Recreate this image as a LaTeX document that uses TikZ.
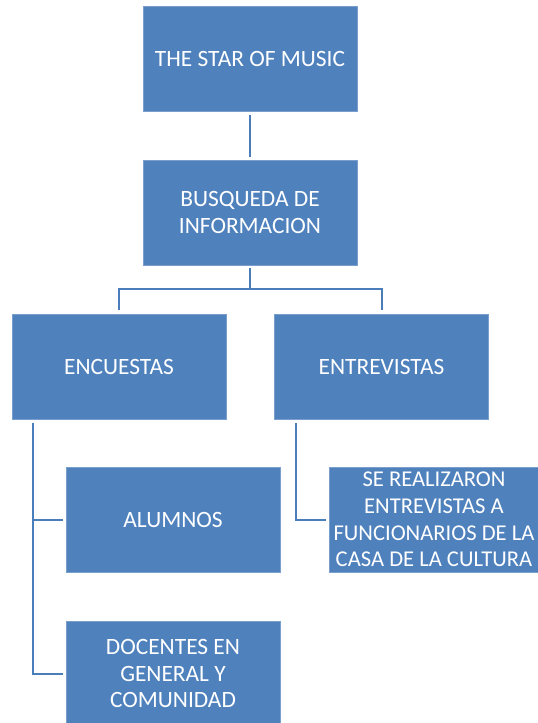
\documentclass[tikz,border=0pt]{standalone}
\usepackage{fontspec}
\setmainfont{Carlito}
\definecolor{boxblue}{HTML}{4F81BD}
\definecolor{boxedge}{HTML}{7A9FCC}
\definecolor{linkblue}{HTML}{4A7EBB}
\tikzset{
  stepbox/.style={rectangle,fill=boxblue,draw=boxedge,line width=0.6pt,
    minimum width=214pt,minimum height=105pt,inner sep=0pt,
    text=white,align=center,font=\fontsize{23.4}{26.7}\selectfont},
  link/.style={draw=linkblue,line width=2pt,shorten >=3pt,shorten <=3pt}
}
\begin{document}
\begin{tikzpicture}[x=1pt,y=-1pt]
            \useasboundingbox (0,0) rectangle (538,723);
            \clip (0,0) rectangle (538,723);
            % boxes
            \node[stepbox] (star) at (250,59) {THE STAR OF MUSIC};
            \node[stepbox] (busq) at (250,212.5) {BUSQUEDA DE\\INFORMACION};
            \node[stepbox] (encu) at (119,367) {ENCUESTAS};
            \node[stepbox] (entr) at (381.5,367) {ENTREVISTAS};
            \node[stepbox] (alum) at (173,519.5) {ALUMNOS};
            \node[stepbox,font=\fontsize{22.6}{26.7}\selectfont] (seri) at (436,519.5)
              {\hspace*{-4pt}SE REALIZARON\\\hspace*{-4pt}ENTREVISTAS A\\\hspace*{-4pt}FUNCIONARIOS DE LA\\\hspace*{-4pt}CASA DE LA CULTURA};
            \node[stepbox] (doce) at (173,673.5) {DOCENTES EN\\GENERAL Y\\COMUNIDAD};
            % connectors
            \draw[link] (star) -- (busq);
            \draw[link,shorten >=4pt] (busq.south) -- ++(0,24) -| (encu.north);
            \draw[link,shorten >=4pt] (busq.south) -- ++(0,24) -| (entr.north);
            \draw[link] ([xshift=-86pt]encu.south) |- (alum.west);
            \draw[link] ([xshift=-86pt]encu.south) |- (doce.west);
            \draw[link] ([xshift=-85.5pt]entr.south) |- (seri.west);
        \end{tikzpicture}
\end{document}
